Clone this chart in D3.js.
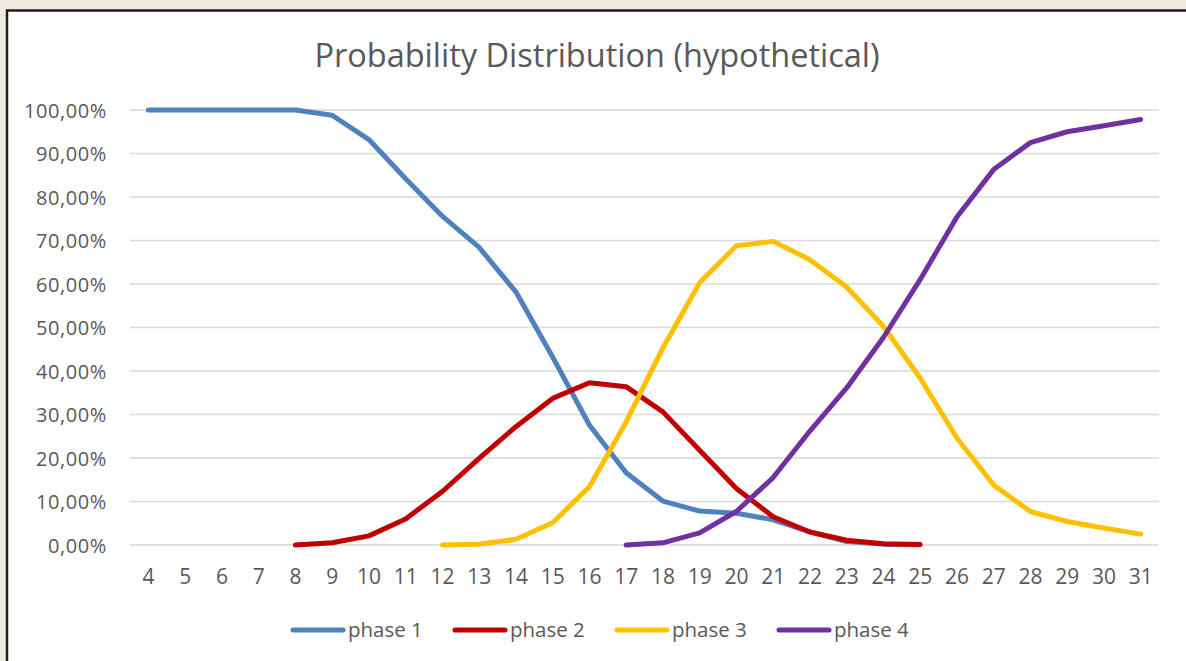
<!DOCTYPE html>
<html>
<head>
<meta charset="utf-8">
<script src="https://cdn.jsdelivr.net/npm/d3@7"></script>
<style>
  html, body { margin: 0; padding: 0; background: #eeebe0; }
  svg { display: block; }
  text { font-family: "Open Sans", "Noto Sans", sans-serif; fill: #595959; }
</style>
</head>
<body>
<svg id="chart" width="1186" height="661"></svg>
<script>
// Periods shown on the category axis
const categories = d3.range(4, 32);

// Probability (%) of being in each phase, per period
const phase1 = { start: 4,  values: [100, 100, 100, 100, 100, 98.8, 93.2, 84.2, 75.6, 68.4, 58.2, 43.2, 27.6, 16.6, 10.1, 7.8, 7.3, 5.8, 3.0, 0.8, 0.2, 0.05] };
const phase2 = { start: 8,  values: [0, 0.5, 2.1, 6.0, 12.3, 19.9, 27.2, 33.7, 37.3, 36.4, 30.6, 21.8, 13.0, 6.5, 3.0, 1.1, 0.3, 0.1] };
const phase3 = { start: 12, values: [0, 0.2, 1.3, 5.1, 13.4, 28.3, 45.3, 60.3, 68.8, 69.8, 65.6, 59.3, 50.3, 38.4, 24.6, 13.8, 7.7, 5.4, 3.9, 2.5] };
const phase4 = { start: 17, values: [0, 0.5, 2.8, 7.7, 15.5, 26.2, 36.1, 47.7, 61.0, 75.4, 86.3, 92.5, 95.0, 96.4, 97.8] };

const seriesNames = ["phase 1", "phase 2", "phase 3", "phase 4"];
const seriesColors = ["#4f81bd", "#c00000", "#ffc000", "#7030a0"];
const yTicks = d3.range(0, 101, 10);

const series = [phase1, phase2, phase3, phase4].map((s, i) => ({
  name: seriesNames[i],
  color: seriesColors[i],
  points: s.values.map((v, k) => ({ x: s.start + k, y: v }))
}));

const svg = d3.select("#chart");

// chart frame
svg.append("rect")
  .attr("x", 7).attr("y", 10.5).attr("width", 1300).attr("height", 700)
  .attr("fill", "#ffffff").attr("stroke", "#1e1e1e").attr("stroke-width", 2.5);

const plot = { left: 130, right: 1159, top: 110, bottom: 545 };

const x = d3.scaleBand().domain(categories).range([plot.left, plot.right]).padding(0);
const y = d3.scaleLinear().domain([0, 100]).range([plot.bottom, plot.top]);
const cx = v => x(v) + x.bandwidth() / 2;

// horizontal gridlines
svg.append("g")
  .selectAll("line").data(yTicks).join("line")
  .attr("x1", plot.left).attr("x2", plot.right)
  .attr("y1", d => y(d)).attr("y2", d => y(d))
  .attr("stroke", "#d9d9d9").attr("stroke-width", 1.5);

// y axis labels
const yAxis = d3.axisLeft(y).tickValues(yTicks)
  .tickFormat(d => d3.format(".2f")(d).replace(".", ",") + "%")
  .tickSize(0).tickPadding(23);
svg.append("g").attr("transform", `translate(${plot.left},0)`).call(yAxis)
  .call(g => g.select(".domain").remove())
  .call(g => g.selectAll("text").attr("font-size", 20).attr("fill", "#595959")
    .attr("letter-spacing", 0.6)
    .style("font-family", '"Open Sans", sans-serif').attr("dy", "0.35em"));

// x axis labels
const xAxis = d3.axisBottom(x).tickSize(0).tickPadding(24);
svg.append("g").attr("transform", `translate(0,${plot.bottom})`).call(xAxis)
  .call(g => g.select(".domain").remove())
  .call(g => g.selectAll("text").attr("font-size", 21).attr("fill", "#595959")
    .style("font-family", '"Open Sans", sans-serif'));

// series lines
const line = d3.line().x(d => cx(d.x)).y(d => y(d.y));
svg.append("g").selectAll("path").data(series).join("path")
  .attr("d", d => line(d.points))
  .attr("fill", "none")
  .attr("stroke", d => d.color)
  .attr("stroke-width", 5)
  .attr("stroke-linejoin", "round")
  .attr("stroke-linecap", "round");

// title
svg.append("text")
  .attr("x", 597).attr("y", 67)
  .attr("text-anchor", "middle")
  .attr("font-size", 32.5)
  .text("Probability Distribution (hypothetical)");

// legend
const legend = svg.append("g").attr("transform", "translate(293,630)");
const item = legend.selectAll("g").data(series).join("g")
  .attr("transform", (d, i) => `translate(${i * 162},0)`);
item.append("line")
  .attr("x1", 0).attr("x2", 50).attr("y1", 0).attr("y2", 0)
  .attr("stroke", d => d.color).attr("stroke-width", 5).attr("stroke-linecap", "round");
item.append("text")
  .attr("x", 55).attr("y", 0).attr("dy", "0.35em")
  .attr("font-size", 20.5)
  .text(d => d.name);
</script>
</body>
</html>
